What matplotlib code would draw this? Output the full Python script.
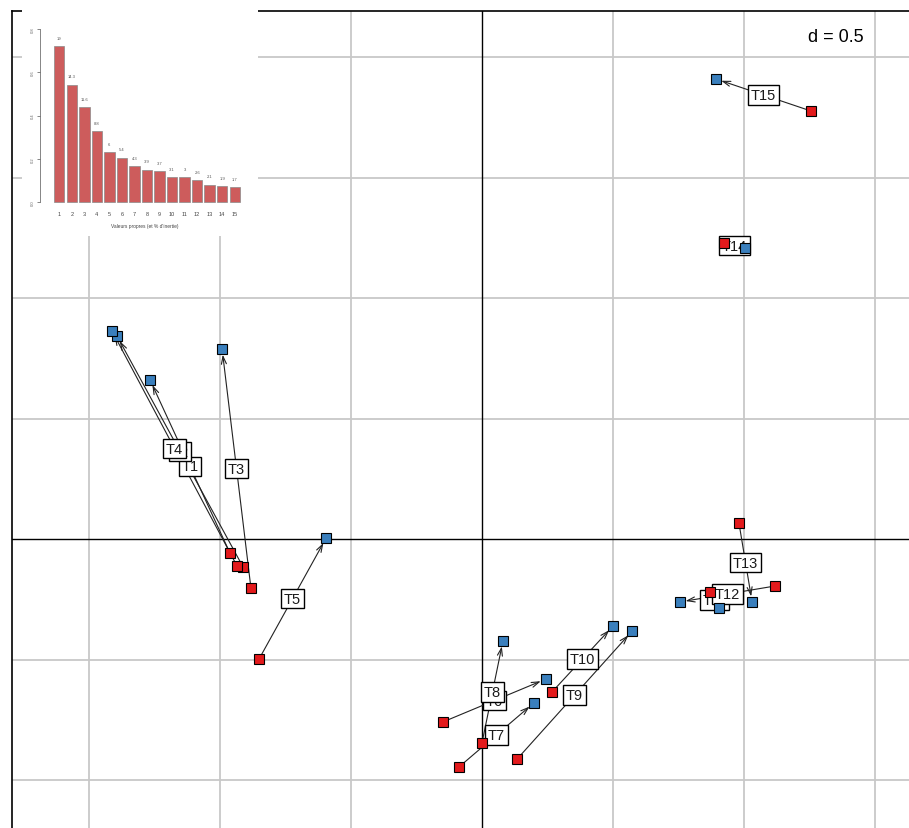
import matplotlib
matplotlib.use("Agg")
import matplotlib.pyplot as plt

plt.rcParams['font.family'] = ['Liberation Sans', 'DejaVu Sans']

# ---------------- data ----------------
labels = ["T1", "T2", "T3", "T4", "T5", "T6", "T7", "T8", "T9", "T10",
          "T11", "T12", "T13", "T14", "T15"]
# start points (red)
x_start = [-0.962, -0.912, -0.882, -0.935, -0.851, -0.149, -0.088, 0.000,
           0.134, 0.267, 0.870, 1.118, 0.981, 0.924, 1.256]
y_start = [-0.058, -0.116, -0.203, -0.112, -0.498, -0.759, -0.946, -0.846,
           -0.913, -0.635, -0.220, -0.195, 0.066, 1.228, 1.776]
# end points (blue)
x_end = [-1.267, -1.393, -0.992, -1.412, -0.595, 0.244, 0.198, 0.080,
         0.573, 0.500, 0.905, 0.756, 1.031, 1.004, 0.893]
y_end = [0.660, 0.842, 0.788, 0.863, 0.004, -0.581, -0.680, -0.423,
         -0.382, -0.361, -0.286, -0.261, -0.261, 1.207, 1.909]

# eigenvalues inset
eig_values = [0.720, 0.542, 0.439, 0.328, 0.231, 0.205, 0.166, 0.149,
              0.142, 0.115, 0.114, 0.100, 0.079, 0.072, 0.068]
eig_pct = ["19", "14.3", "11.6", "8.8", "6", "5.4", "4.3", "3.9", "3.7",
           "3.1", "3", "2.6", "2.1", "1.9", "1.7"]
eig_names = [str(i) for i in range(1, 16)]

grid_x = [-1.5, -1.0, -0.5, 0.5, 1.0, 1.5]
grid_y = [-1.0, -0.5, 0.5, 1.0, 1.5, 2.0]

# ---------------- figure ----------------
W, H = 909, 829
fig = plt.figure(figsize=(W / 100, H / 100), dpi=100)
fig.patch.set_facecolor('white')

def fx(px):
    return px / W

def fy(py):
    return 1 - py / H

ax = fig.add_axes([fx(12), 0, fx(W) - fx(12), fy(12)])
ax.set_xlim(-1.794, 1.630)
ax.set_ylim(-1.199, 2.191)
ax.set_xticks([])
ax.set_yticks([])
for s in ['right', 'bottom']:
    ax.spines[s].set_visible(False)
for s in ['top', 'left']:
    ax.spines[s].set_linewidth(1.2)
    ax.spines[s].set_color('black')

for g in grid_x:
    ax.axvline(g, color='#c8c8c8', lw=1.3, zorder=0)
for g in grid_y:
    ax.axhline(g, color='#c8c8c8', lw=1.3, zorder=0)
ax.axvline(0, color='black', lw=1.0, zorder=1)
ax.axhline(0, color='black', lw=1.0, zorder=1)

for i in range(len(labels)):
    ax.annotate('', xy=(x_end[i], y_end[i]), xytext=(x_start[i], y_start[i]),
                arrowprops=dict(arrowstyle='->,head_length=0.55,head_width=0.18',
                                color='#222222', lw=0.8, shrinkA=0, shrinkB=4),
                zorder=2)

for i in range(len(labels)):
    mx = (x_start[i] + x_end[i]) / 2
    my = (y_start[i] + y_end[i]) / 2
    ax.text(mx, my, labels[i], ha='center', va='center', fontsize=10.5,
            color='#1a1a1a', zorder=3,
            bbox=dict(boxstyle='square,pad=0.18', facecolor='white',
                      edgecolor='black', lw=1.0))

ax.plot(x_start, y_start, 's', markersize=7.5, markerfacecolor='#e31a1c',
        markeredgecolor='black', markeredgewidth=0.8, linestyle='none', zorder=4)
ax.plot(x_end, y_end, 's', markersize=7.5, markerfacecolor='#3a7fbd',
        markeredgecolor='black', markeredgewidth=0.8, linestyle='none', zorder=4)

fig.text(fx(836), fy(38), 'd = 0.5', ha='center', va='center', fontsize=13,
         color='black')

# ---------------- inset ----------------
bg = fig.add_axes([fx(22), fy(237), fx(258) - fx(22), fy(0) - fy(237)])
bg.set_xticks([])
bg.set_yticks([])
for s in bg.spines.values():
    s.set_visible(False)
bg.patch.set_facecolor('white')
bg.set_zorder(5)

# bar axes: px x 40..250, py 20..205
bax = fig.add_axes([fx(40), fy(205), fx(250) - fx(40), fy(20) - fy(205)])
bax.set_zorder(6)
bax.patch.set_alpha(0)
pos = [0.7 + 1.2 * i for i in range(15)]
bax.bar(pos, eig_values, width=1.0, color='#cd5c5c', edgecolor='#8a8a8a',
        linewidth=0.5)
for p, v, t in zip(pos, eig_values, eig_pct):
    bax.text(p, v + 0.03, t, ha='center', va='bottom', fontsize=3,
             color='#555555')
bax.set_xlim(-1.14, 18.96)
bax.set_ylim(-0.009, 0.846)
for s in ['top', 'right', 'bottom']:
    bax.spines[s].set_visible(False)
bax.spines['left'].set_bounds(0, 0.8)
bax.spines['left'].set_linewidth(0.5)
bax.spines['left'].set_color('#555555')
bax.set_yticks([0, 0.2, 0.4, 0.6, 0.8])
bax.set_yticklabels(['0.0', '0.2', '0.4', '0.6', '0.8'], rotation=90,
                    va='center', fontsize=3, color='#666666')
bax.tick_params(axis='y', length=2, width=0.5, color='#555555', pad=2)
bax.set_xticks(pos)
bax.set_xticklabels(eig_names, fontsize=4, color='#444444')
bax.tick_params(axis='x', length=0, pad=5)
bax.set_xlabel("Valeurs propres (et % d'inertie)", fontsize=3.5,
               color='#444444', labelpad=5)

fig.savefig('out.png', dpi=100)
